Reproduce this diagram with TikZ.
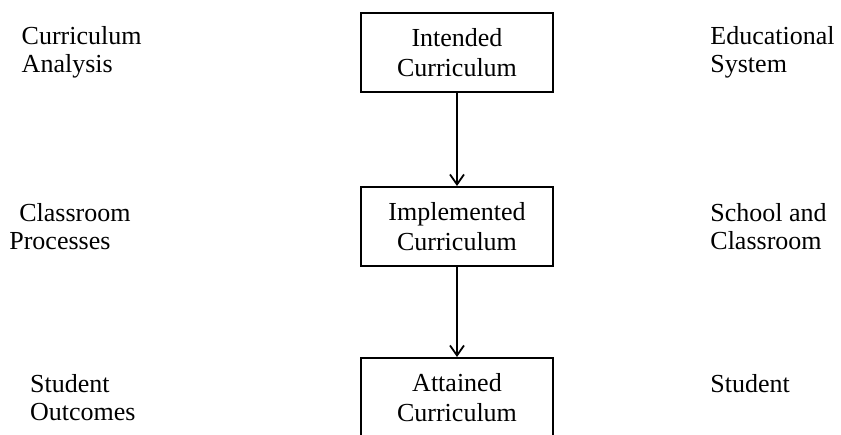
\documentclass[tikz,border=0pt]{standalone}
\usepackage{fontspec}
\setmainfont{Liberation Serif}
\usetikzlibrary{positioning,arrows.meta}

\begin{document}
\begin{tikzpicture}[
    % Curriculum
    curr block/.style={
        draw=black,
        line width=1pt,
        minimum width=96pt,
        minimum height=39.5pt,
        inner sep=0pt,
        align=center,
        font=\fontsize{13}{15}\selectfont
    },
    % Side labels
    side label/.style={
        inner sep=0pt,
        align=left,
        font=\fontsize{13}{14}\selectfont
    },
    % Arrow
    arrow/.style={
        -{Straight Barb[length=5pt,width=7pt]},
        line width=0.9pt
    }
]

\useasboundingbox (0,0) rectangle (420.5pt,-217pt);

% Middle column
\node[curr block] (intended) at (228.5pt,-26.25pt) {Intended\\Curriculum};
\node[curr block, below=46.5pt of intended] (implemented) {Implemented\\Curriculum};
\node[curr block, below=45pt of implemented] (attained) {Attained\\Curriculum};

% Left column
\node[side label, left=109pt of intended] (analysis) {Curriculum\\Analysis};
\node[side label, left=114.5pt of implemented] (processes) {\hspace*{5pt}Classroom\\Processes};
\node[side label, left=112pt of attained] (outcomes) {Student\\Outcomes};

% Right column
\node[side label, right=78pt of intended] (system) {Educational\\System};
\node[side label, right=78pt of implemented] (classroom) {School and\\Classroom};
\node[side label, right=78pt of attained, yshift=7pt] (student) {Student};

% Connections
\draw[arrow] (intended) -- (implemented);
\draw[arrow] (implemented) -- (attained);

\end{tikzpicture}
\end{document}
